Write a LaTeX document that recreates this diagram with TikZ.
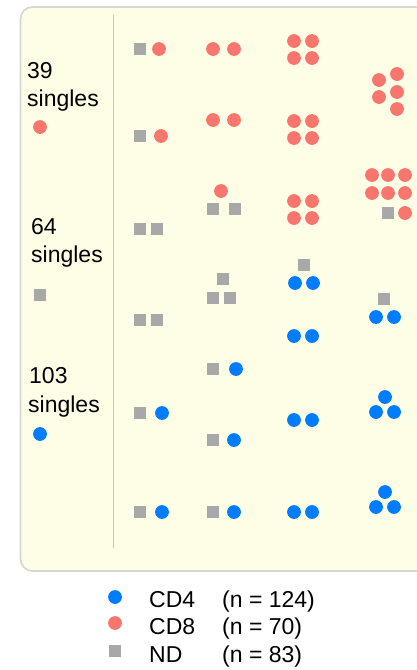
\documentclass[tikz,border=0pt]{standalone}
\usepackage{fontspec}
\setmainfont{Liberation Sans}
\definecolor{cdblue}{RGB}{0,124,255}
\definecolor{cdred}{RGB}{248,118,109}
\definecolor{ndgrey}{RGB}{168,168,168}
\definecolor{panelfill}{RGB}{254,254,230}
\definecolor{panelline}{RGB}{214,214,210}
\definecolor{divline}{RGB}{200,200,190}
\tikzset{
  cdfour/.style={circle,fill=cdblue,inner sep=0pt,minimum size=13.8pt},
  cdeight/.style={circle,fill=cdred,inner sep=0pt,minimum size=13.8pt},
  ndsq/.style={rectangle,fill=ndgrey,inner sep=0pt,minimum size=11.5pt},
  lbl/.style={anchor=base west,inner sep=0pt,font=\fontsize{23}{27}\selectfont},
}
\begin{document}
\begin{tikzpicture}[x=1pt,y=-1pt]
\useasboundingbox (0,0) rectangle (417,670);
\clip (0,0) rectangle (417,670);
% panel
\draw[panelline,line width=1.6pt,fill=panelfill,rounded corners=12pt] (20.5,7) rectangle (440,571);
\coordinate (dtop) at (113,15);
\coordinate (dbot) at (113,548);
\draw[divline,line width=1pt] (dtop) -- (dbot);
% left labels
\node[lbl] (t39) at (27,78) {39};
\node[lbl] (s39) at (27,106) {singles};
\node[cdeight] (l39) at (40,127) {};
\node[lbl] (t64) at (31,234) {64};
\node[lbl] (s64) at (31,262) {singles};
\node[ndsq] (l64) at (40,295) {};
\node[lbl] (t103) at (29,383) {103};
\node[lbl] (s103) at (28,412) {singles};
\node[cdfour] (l103) at (40,434) {};
% CD8 dots
\foreach \x/\y [count=\i] in {159/49, 213/49,234/49, 294/41,312/41,294/58,312/58,
  379/80,397/74,379/97,397/92,397/109,
  161/136, 213/120,234/120, 294/121,312/121,294/138,312/138,
  221/191, 294/201,312/201,294/218,312/218,
  372/175,388/175,405/175,372/193,388/193,405/193,405/213}
  \node[cdeight] (r\i) at (\x,\y) {};
% CD4 dots
\foreach \x/\y [count=\i] in {295/283,313/283, 376/317,394/317, 294/336,312/336,
  236/369, 162/413, 294/420,312/420, 385/397,376/412,394/412, 234/440,
  162/512, 234/512, 294/512,312/512, 385/492,376/507,394/507}
  \node[cdfour] (b\i) at (\x,\y) {};
% ND squares
\foreach \x/\y [count=\i] in {140/49, 140/136, 213/209,235/209, 388/213, 140/229,157/229,
  223/279,213/298,230/298, 304/265, 384/299, 140/320,157/320,
  213/369, 140/413, 213/440, 140/512, 213/512}
  \node[ndsq] (g\i) at (\x,\y) {};
% legend
\node[cdfour] (kb) at (115,597) {};
\node[cdeight] (kr) at (115,623) {};
\node[ndsq] (kg) at (115,651) {};
\node[lbl] (k1) at (149,607) {CD4};
\node[lbl] (k2) at (149,634) {CD8};
\node[lbl] (k3) at (149,662) {ND};
\node[lbl] (n1) at (222,607) {(n = 124)};
\node[lbl] (n2) at (222,634) {(n = 70)};
\node[lbl] (n3) at (222,662) {(n = 83)};
\end{tikzpicture}
\end{document}
